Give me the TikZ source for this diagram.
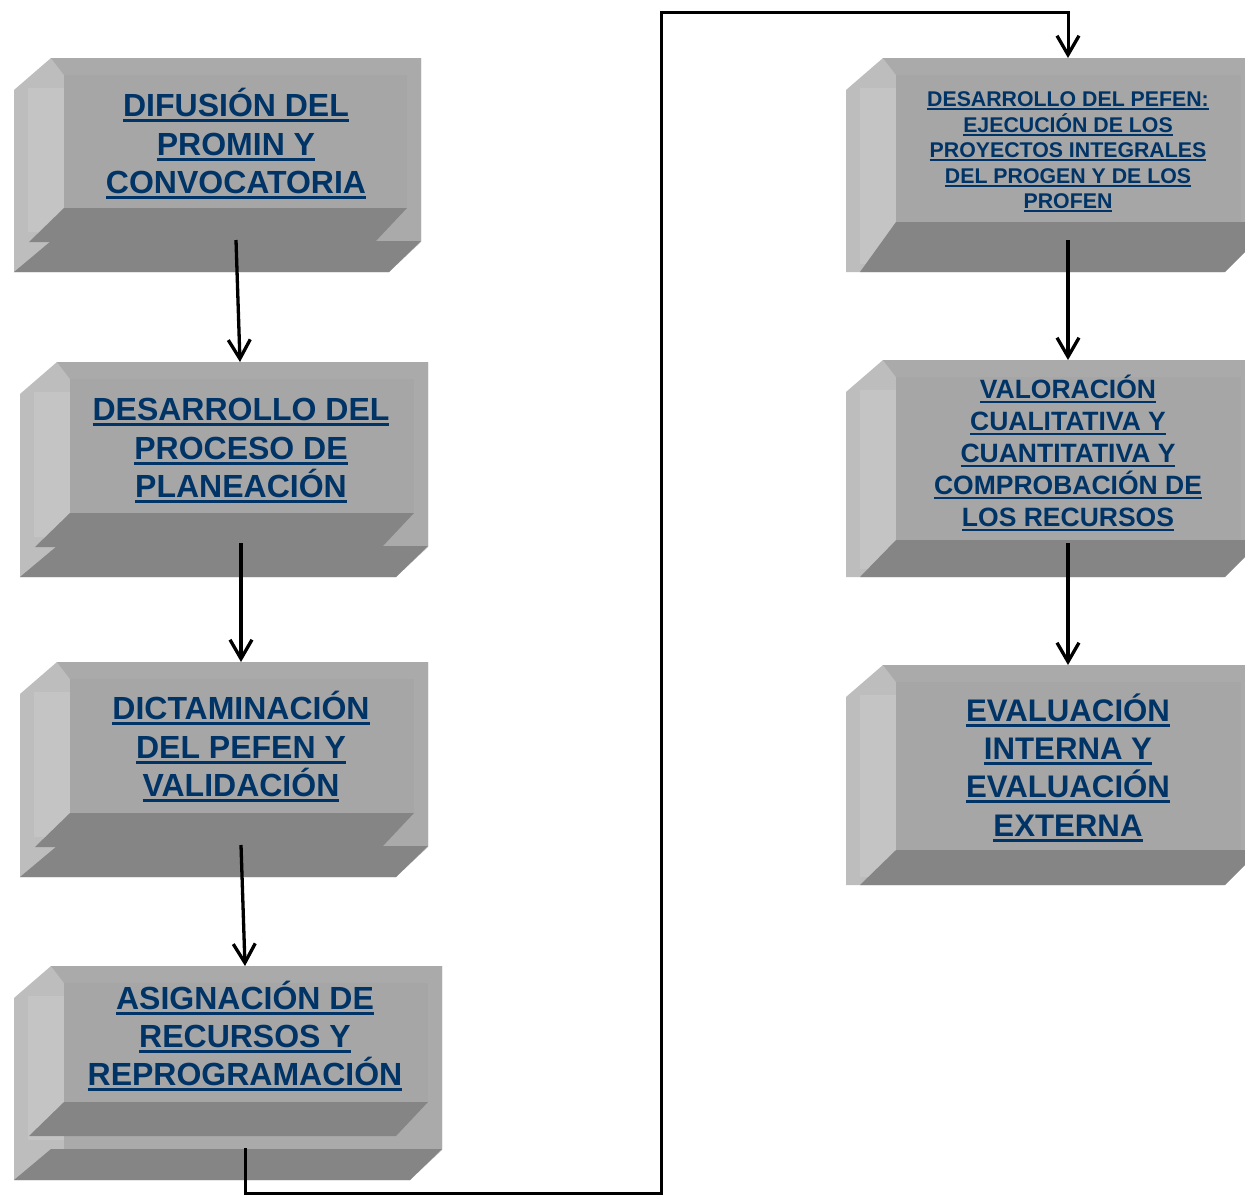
\documentclass[tikz,border=0pt]{standalone}
\usepackage{fontspec}
\setmainfont{Liberation Sans}
\usetikzlibrary{arrows.meta}
\definecolor{txtblue}{RGB}{0,51,102}
\definecolor{bvleft}{RGB}{189,189,189}
\definecolor{bvinner}{RGB}{196,196,196}
\definecolor{bvtop}{RGB}{170,170,170}
\definecolor{bvface}{RGB}{166,166,166}
\definecolor{bvdark}{RGB}{133,133,133}
\newcommand\ulline[1]{\setbox0\hbox{#1}\rlap{\rule[-0.18em]{\wd0}{0.1em}}\box0}
% two-band box: x0 y0 x1 y1 d (face bottom offset from y1)
\newcommand\bevboxA[5]{%
  \fill[bvleft] (#1,{#2+32}) -- ({#1+37},#2) -- (#3,#2) -- (#3,{#4-30}) -- ({#3-32},#4) -- (#1,#4) -- cycle;
  \fill[bvinner] ({#1+14},{#2+30}) rectangle ({#1+50},{#4-40});
  \fill[bvtop] ({#1+37},#2) -- (#3,#2) -- (#3,{#4-31}) -- ({#1+50},{#4-31}) -- ({#1+50},{#2+17}) -- cycle;
  \fill[bvface] ({#1+50},{#2+17}) rectangle ({#3-14},{#4-#5});
  \fill[bvdark] ({#1+50},{#4-#5}) -- ({#3-14},{#4-#5}) -- ({#3-46},{#4-#5+34}) -- ({#1+15},{#4-#5+34}) -- cycle;
  \fill[bvdark] ({#1+37},{#4-31}) -- (#3,{#4-31}) -- ({#3-32},#4) -- (#1,#4) -- cycle;
}
% single-band box: x0 y0 x1 y1 d
\newcommand\bevboxB[5]{%
  \fill[bvleft] (#1,{#2+32}) -- ({#1+37},#2) -- (#3,#2) -- (#3,{#4-30}) -- ({#3-32},#4) -- (#1,#4) -- cycle;
  \fill[bvinner] ({#1+14},{#2+30}) rectangle ({#1+50},{#4-8});
  \fill[bvtop] ({#1+37},#2) -- (#3,#2) -- (#3,{#4-#5}) -- ({#1+50},{#4-#5}) -- ({#1+50},{#2+17}) -- cycle;
  \fill[bvface] ({#1+50},{#2+17}) rectangle ({#3-14},{#4-#5});
  \fill[bvdark] ({#1+50},{#4-#5}) -- (#3,{#4-#5}) -- (#3,{#4-30}) -- ({#3-30},#4) -- ({#1+14},#4) -- cycle;
}
\tikzset{
  boxtext/.style={anchor=base, align=center, text=txtblue, inner sep=0pt, font=\bfseries},
  flow/.style={line width=3.3pt, -{Straight Barb[length=19pt,width=22pt,line width=3.3pt]}},
  loopline/.style={line width=3pt, -{Straight Barb[length=19pt,width=22pt,line width=3.3pt]}},
}
\begin{document}
\begin{tikzpicture}[x=1pt,y=-1pt]
\useasboundingbox (0,0) rectangle (1245,1195);
\clip (0,0) rectangle (1245,1195);
\fill[white] (0,0) rectangle (1245,1195);
% boxes
\bevboxA{14}{58}{421}{272}{64}
\bevboxA{20}{362}{428}{577}{64}
\bevboxA{20}{662}{428}{877}{64}
\bevboxA{14}{966}{442}{1180}{78}
\bevboxB{846}{58}{1255}{272}{50}
\bevboxB{846}{360}{1255}{577}{37}
\bevboxB{846}{665}{1255}{885}{35}
% texts (anchor base = baseline of last line)
\node[boxtext, font=\bfseries\fontsize{32}{38.5}\selectfont] (t1) at (236,193.5)
  {\ulline{DIFUSIÓN DEL}\\\ulline{PROMIN Y}\\\ulline{CONVOCATORIA}};
\node[boxtext, font=\bfseries\fontsize{32}{38.5}\selectfont] (t2) at (241,497.5)
  {\ulline{DESARROLLO DEL}\\\ulline{PROCESO DE}\\\ulline{PLANEACIÓN}};
\node[boxtext, font=\bfseries\fontsize{32}{38.5}\selectfont] (t3) at (241,796.5)
  {\ulline{DICTAMINACIÓN}\\\ulline{DEL PEFEN Y}\\\ulline{VALIDACIÓN}};
\node[boxtext, font=\bfseries\fontsize{32}{38}\selectfont] (t4) at (245,1085.5)
  {\ulline{ASIGNACIÓN DE}\\\ulline{RECURSOS Y}\\\ulline{REPROGRAMACIÓN}};
\node[boxtext, font=\bfseries\fontsize{21.3}{25.5}\selectfont] (t5) at (1068,208.5)
  {\ulline{DESARROLLO DEL PEFEN:}\\\ulline{EJECUCIÓN DE LOS}\\\ulline{PROYECTOS INTEGRALES}\\\ulline{DEL PROGEN Y DE LOS}\\\ulline{PROFEN}};
\node[boxtext, font=\bfseries\fontsize{26.5}{32}\selectfont] (t6) at (1068,526.5)
  {\ulline{VALORACIÓN}\\\ulline{CUALITATIVA Y}\\\ulline{CUANTITATIVA Y}\\\ulline{COMPROBACIÓN DE}\\\ulline{LOS RECURSOS}};
\node[boxtext, font=\bfseries\fontsize{31.2}{38.3}\selectfont] (t7) at (1068,836)
  {\ulline{EVALUACIÓN}\\\ulline{INTERNA Y}\\\ulline{EVALUACIÓN}\\\ulline{EXTERNA}};
% connector ends
\coordinate (o1) at (236,240);  \coordinate (i2) at (240,362);
\coordinate (o2) at (241,543);  \coordinate (i3) at (241,662);
\coordinate (o3) at (241,845);  \coordinate (i4) at (245,966);
\coordinate (o4) at (245,1148); \coordinate (i5) at (1068,58);
\coordinate (o5) at (1068,240); \coordinate (i6) at (1068,360);
\coordinate (o6) at (1068,543); \coordinate (i7) at (1068,665);
\draw[flow] (o1) -- (i2);
\draw[flow] (o2) -- (i3);
\draw[flow] (o3) -- (i4);
\draw[loopline] (o4) -- (245,1193) -- (661,1193) -- (661,12) -- (1068,12) -- (i5);
\draw[flow] (o5) -- (i6);
\draw[flow] (o6) -- (i7);
\end{tikzpicture}
\end{document}
